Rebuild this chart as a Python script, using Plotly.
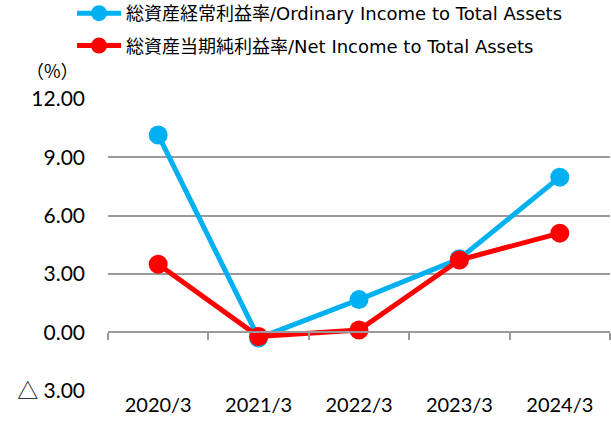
import plotly.graph_objects as go

categories = ["2020/3", "2021/3", "2022/3", "2023/3", "2024/3"]
ordinary_income_ratio = [10.15, -0.3, 1.68, 3.78, 7.98]
net_income_ratio = [3.5, -0.22, 0.12, 3.72, 5.1]
series_names = ["総資産経常利益率/Ordinary Income to Total Assets",
                "総資産当期純利益率/Net Income to Total Assets"]
ytick_vals = [-3, 0, 3, 6, 9, 12]
ytick_text = ["△ 3.00", "0.00", "3.00", "6.00", "9.00", "12.00"]

FONT = "Lato, Noto Sans CJK JP, sans-serif"
BLUE = "#00B0F0"
RED = "#FF0000"

fig = go.Figure()
for name, vals, col in [(series_names[0], ordinary_income_ratio, BLUE),
                        (series_names[1], net_income_ratio, RED)]:
    fig.add_trace(go.Scatter(
        x=categories, y=vals, name=name, mode="lines+markers",
        line=dict(color=col, width=5), marker=dict(color=col, size=19),
        legendgroup=name))

# dummy trace on the zero-line axis so it renders
fig.add_trace(go.Scatter(x=categories, y=[None]*len(categories), xaxis="x2",
                         showlegend=False, hoverinfo="skip"))

ymin, ymax = -3, 12
L, R, T, B = 108, 1, 98, 49
pw, ph = 611 - L - R, 440 - T - B
fig.update_layout(
    width=611, height=440,
    margin=dict(l=L, r=R, t=T, b=B, autoexpand=False),
    paper_bgcolor="white", plot_bgcolor="white",
    font=dict(family=FONT, color="#000000"),
    showlegend=True,
    legend=dict(x=(72 - L) / pw, y=1 + (T + 5) / ph, xanchor="left", yanchor="top",
                font=dict(family="DejaVu Sans, Noto Sans CJK JP", size=18),
                tracegroupgap=6, itemwidth=44, bgcolor="rgba(0,0,0,0)"),
    xaxis=dict(type="category", categoryarray=categories, showline=False,
               showgrid=False, ticks="", tickfont=dict(size=20, family=FONT),
               range=[-0.5, 4.5], zeroline=False),
    xaxis2=dict(type="category", categoryarray=categories, overlaying="x",
                anchor="free", position=(0 - ymin) / (ymax - ymin),
                range=[-0.5, 4.5], showline=True, linecolor="#9a9a9a",
                linewidth=1.5, ticks="outside", tickson="boundaries",
                ticklen=7, tickcolor="#9a9a9a", tickwidth=1.5,
                showticklabels=False, showgrid=False, zeroline=False),
    yaxis=dict(range=[ymin - 0.02, ymax + 0.05], tickvals=ytick_vals,
               ticktext=ytick_text, showgrid=True, gridcolor="#9a9a9a",
               gridwidth=1.5, zeroline=False, showline=False,
               tickfont=dict(size=21, family=FONT), ticklabelstandoff=22),
    annotations=[dict(text="（%）", x=(52 - L) / pw, y=1 + (T - 70) / ph,
                      xref="paper", yref="paper", showarrow=False,
                      xanchor="center", yanchor="middle",
                      font=dict(size=18, family="Noto Sans CJK JP"))],
)

fig.write_html("out.html", config={"displayModeBar": False},
               post_script="document.body.style.margin='0';document.body.style.padding='0';")
